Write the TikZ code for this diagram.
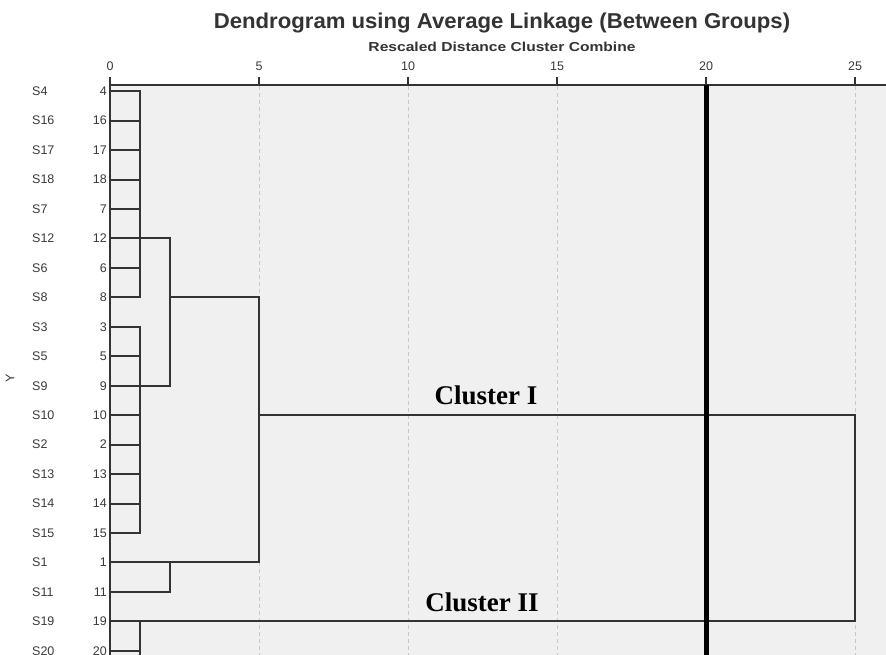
\documentclass[tikz,border=0pt]{standalone}
\usepackage{fontspec}
\setmainfont{Liberation Sans}
\newfontfamily\clusterfont{Liberation Serif}
\usetikzlibrary{calc}
\definecolor{bggray}{HTML}{F0F0F0}
\definecolor{gridgray}{HTML}{C8C8C8}
\definecolor{treegray}{HTML}{333333}
\definecolor{labgray}{HTML}{3A3A3A}
\begin{document}
\begin{tikzpicture}[x=1pt,y=-1pt,
  treeline/.style={draw=treegray,line width=2pt,line cap=rect},
  gridline/.style={draw=gridgray,line width=0.8pt,dash pattern=on 4pt off 3pt},
  axisline/.style={draw=treegray,line width=1.8pt},
  slab/.style={anchor=west,inner sep=0pt,text=labgray,font=\fontsize{12.5}{14}\selectfont},
  nlab/.style={anchor=east,inner sep=0pt,text=labgray,font=\fontsize{12.5}{14}\selectfont},
  ticklab/.style={inner sep=0pt,text=labgray,font=\fontsize{12.5}{14}\selectfont},
  clusterlab/.style={inner sep=0pt,text=black,font=\clusterfont\bfseries\fontsize{27}{30}\selectfont},
  cutline/.style={draw=black,line width=5pt}]
\useasboundingbox (0,0) rectangle (886,655);
\clip (0,0) rectangle (886,655);
\fill[white] (0,0) rectangle (886,655);
\fill[bggray] (110,85) rectangle (886,655);
% column positions (distance scale)
\coordinate (d0) at (110,0);
\coordinate (d1) at (139.8,0);
\coordinate (d2) at (169.6,0);
\coordinate (d5) at (259,0);
\coordinate (d20) at (706.5,0);
\coordinate (d25) at (855,0);
% grid
\foreach \v in {5,10,15,20,25}
  \draw[gridline] ({110+29.8*\v},86) -- ({110+29.8*\v},655);
% axes
\draw[axisline] (110,85) -- (886,85);
\draw[axisline] (110,77) -- (110,655);
\foreach \v in {0,5,10,15,20,25} {
  \draw[axisline] ({110+29.8*\v},77) -- ({110+29.8*\v},85);
  \node[ticklab] (t\v) at ({110+29.8*\v},66) {\v};
}
% titles
\node[inner sep=0pt,text=treegray,font=\bfseries\fontsize{21.5}{25}\selectfont,xscale=1.03] (title) at (502,23) {Dendrogram using Average Linkage (Between Groups)};
\node[inner sep=0pt,text=treegray,font=\bfseries\fontsize{13}{15}\selectfont,xscale=1.2] (subtitle) at (502,47) {Rescaled Distance Cluster Combine};
\node[inner sep=0pt,text=labgray,rotate=90,font=\fontsize{12.5}{14}\selectfont] (ylab) at (10,378) {Y};
% rows
\foreach \s/\n [count=\i from 0] in {S4/4,S16/16,S17/17,S18/18,S7/7,S12/12,S6/6,S8/8,S3/3,S5/5,S9/9,S10/10,S2/2,S13/13,S14/14,S15/15,S1/1,S11/11,S19/19,S20/20} {
  \coordinate (r\i) at (110,{91.2+29.45*\i});
  \node[slab] (s\i) at (32,{91.2+29.45*\i}) {\s};
  \node[nlab] (n\i) at (107,{91.2+29.45*\i}) {\n};
}
% tree
\foreach \i in {0,...,15} \draw[treeline] (r\i) -- (r\i -| d1);
\draw[treeline] (r0 -| d1) -- (r7 -| d1);
\draw[treeline] (r8 -| d1) -- (r15 -| d1);
\draw[treeline] (r5 -| d1) -- (r5 -| d2) -- (r10 -| d2) -- (r10 -| d1);
\draw[treeline] (r7 -| d2) -- (r7 -| d5);
\draw[treeline] (r16) -- (r16 -| d5);
\draw[treeline] (r17) -- (r17 -| d2) -- (r16 -| d2);
\draw[treeline] (r7 -| d5) -- (r16 -| d5);
\draw[treeline] (r11 -| d5) -- (r11 -| d25) -- (r18 -| d25);
\draw[treeline] (r18) -- (r18 -| d25);
\draw[treeline] (r19) -- (r19 -| d1);
\draw[treeline] (r18 -| d1) -- ($(r19 -| d1)+(0,20)$);
% cut line
\draw[cutline] (d20 |- 0,85) -- (d20 |- 0,655);
% cluster labels
\node[clusterlab] (c1) at (486,395) {Cluster I};
\node[clusterlab] (c2) at (482,602) {Cluster II};
\end{tikzpicture}
\end{document}
